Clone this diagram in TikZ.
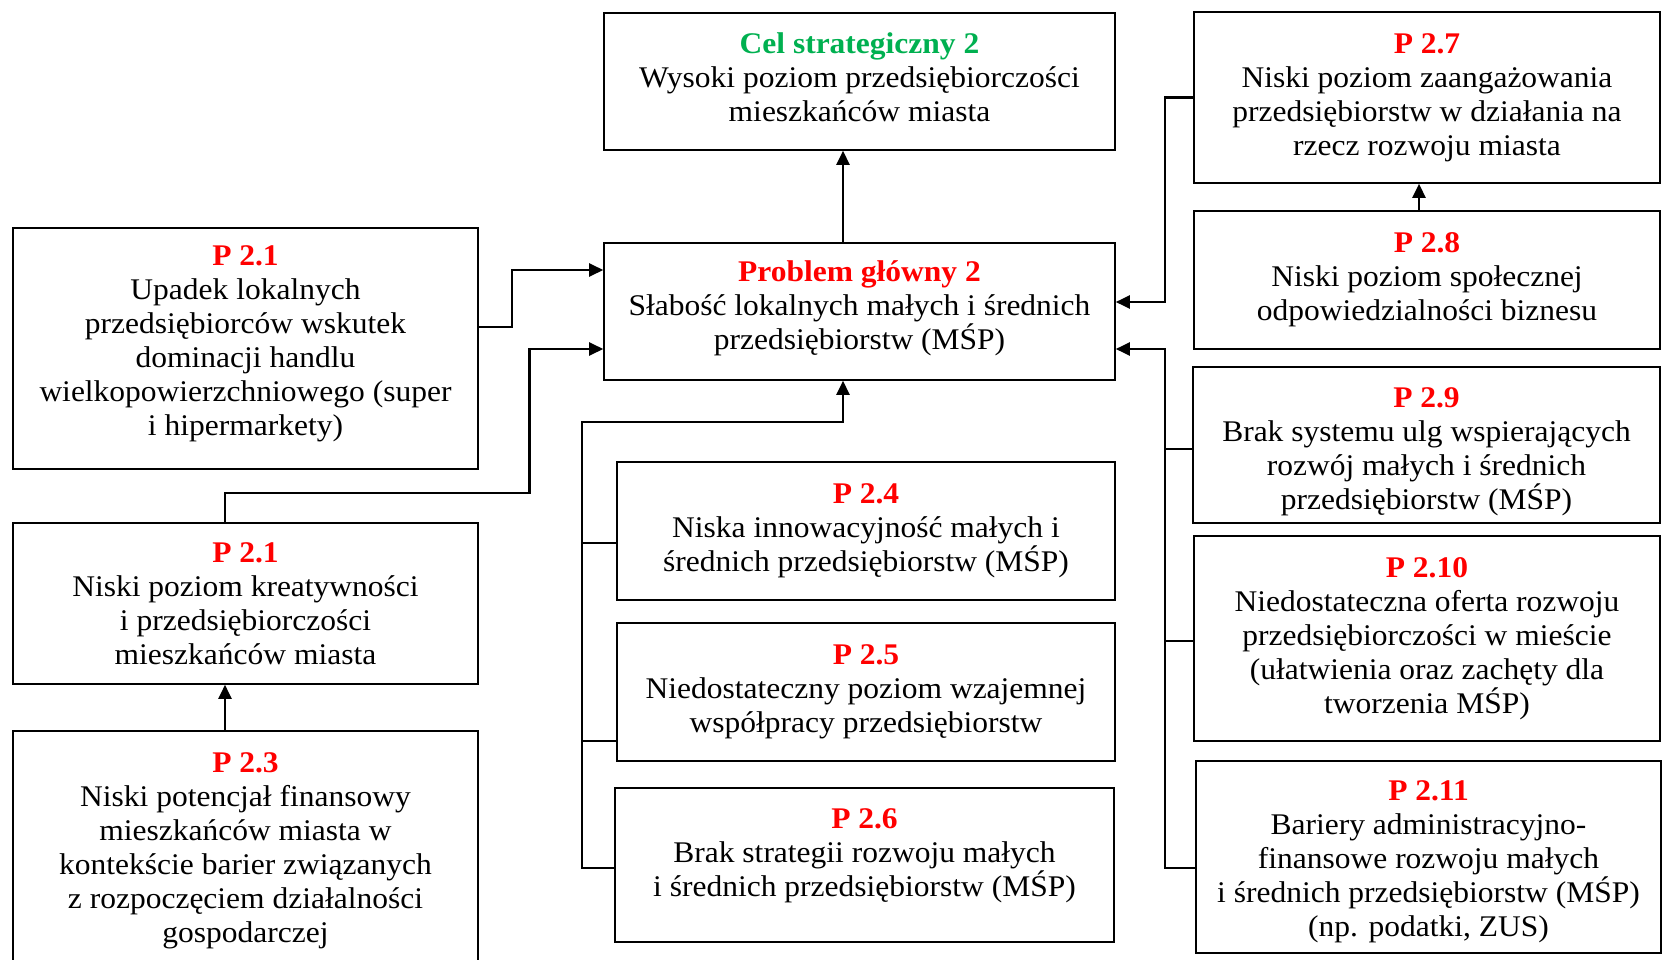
\documentclass[tikz,border=0pt]{standalone}
\usepackage{fontspec}
\setmainfont{Liberation Serif}[FakeStretch=1.05]
\usetikzlibrary{arrows.meta}
\definecolor{pred}{RGB}{255,0,0}
\definecolor{pgreen}{RGB}{0,176,80}
\newcommand{\ptit}[1]{\textcolor{pred}{\bfseries #1}}
\newcommand{\vup}[1]{\rule[-#1pt]{0pt}{0pt}}
\newcommand{\vdn}[1]{\rule{0pt}{#1pt}}

\begin{document}
\begin{tikzpicture}
  [x=1pt,y=-1pt,
   every node/.style={draw,line width=1.6pt,align=center,inner sep=0pt,
     font=\fontsize{30}{34}\selectfont},
   arr/.style={line width=2.4pt,-{Triangle[length=14pt,width=13pt]}},
   bus/.style={line width=2.4pt}]
  \useasboundingbox (0,0) rectangle (1664,960);
  \node[minimum width=511,minimum height=137] (cel) at (859.5,81.5)
    {\textcolor{pgreen}{\bfseries Cel strategiczny 2}\\Wysoki poziom przedsiębiorczości\\mieszkańców miasta\vup{8.5}};
  \node[minimum width=511,minimum height=137] (prob) at (859.5,311.5)
    {\ptit{Problem główny 2}\\Słabość lokalnych małych i średnich\\przedsiębiorstw (MŚP)\vup{13}};
  \node[minimum width=465,minimum height=241] (p21a) at (245.5,348.5)
    {\ptit{P 2.1}\\Upadek lokalnych\\przedsiębiorców wskutek\\dominacji handlu\\wielkopowierzchniowego (super\\i hipermarkety)\vup{15}};
  \node[minimum width=465,minimum height=161] (p21b) at (245.5,603.5)
    {\ptit{P 2.1}\\Niski poziom kreatywności\\i przedsiębiorczości\\mieszkańców miasta};
  \node[minimum width=465,minimum height=232] (p23) at (245.5,847)
    {\vdn{27}\ptit{P 2.3}\\Niski potencjał finansowy\\mieszkańców miasta w\\kontekście barier związanych\\z rozpoczęciem działalności\\gospodarczej};
  \node[minimum width=498,minimum height=138] (p24) at (866,531)
    {\ptit{P 2.4}\\Niska innowacyjność małych i\\średnich przedsiębiorstw (MŚP)};
  \node[minimum width=498,minimum height=138] (p25) at (866,692)
    {\ptit{P 2.5}\\Niedostateczny poziom wzajemnej\\współpracy przedsiębiorstw};
  \node[minimum width=499,minimum height=154] (p26) at (864.5,865)
    {\ptit{P 2.6}\\Brak strategii rozwoju małych\\i średnich przedsiębiorstw (MŚP)\vup{25.5}};
  \node[minimum width=466,minimum height=171] (p27) at (1427,97.5)
    {\ptit{P 2.7}\\Niski poziom zaangażowania\\przedsiębiorstw w działania na\\rzecz rozwoju miasta};
  \node[minimum width=466,minimum height=138] (p28) at (1427,280)
    {\ptit{P 2.8}\\Niski poziom społecznej\\odpowiedzialności biznesu};
  \node[minimum width=467,minimum height=156] (p29) at (1426.5,445)
    {\vdn{33}\ptit{P 2.9}\\Brak systemu ulg wspierających\\rozwój małych i średnich\\przedsiębiorstw (MŚP)};
  \node[minimum width=466,minimum height=205] (p210) at (1427,638.5)
    {\ptit{P 2.10}\\Niedostateczna oferta rozwoju\\przedsiębiorczości w mieście\\(ułatwienia oraz zachęty dla\\tworzenia MŚP)};
  \node[minimum width=465,minimum height=192] (p211) at (1428.5,857)
    {\vdn{29}\ptit{P 2.11}\\Bariery administracyjno-\\finansowe rozwoju małych\\i średnich przedsiębiorstw (MŚP)\\(np. podatki, ZUS)};

  \draw[arr] ([xshift=-16.5pt]prob.north) -- ([xshift=-16.5pt]cel.south);
  \draw[arr] ([yshift=21.5pt]p21a.east) -- ++(33,0) |- ([yshift=41.5pt]prob.west);
  \draw[arr] ([xshift=-20.5pt]p21b.north) -- ++(0,-29) -| (529.5,349) -- ([yshift=-37.5pt]prob.west);
  \draw[arr] ([xshift=-20.5pt]p23.north) -- ([xshift=-20.5pt]p21b.south);
  \draw[arr] ([yshift=-3pt]p26.west) -- ++(-32,0) -- ++(0,-446) -| ([xshift=-16.5pt]prob.south);
  \foreach \n/\dy/\dx in {p24/-12/34,p25/-49/34}
    \draw[bus] ([yshift=\dy pt]\n.west) -- ++(-\dx,0);
  \draw[arr] (p27.west) -- ++(-28,0) |- ([yshift=9.5pt]prob.east);
  \draw[arr] ([xshift=-8pt]p28.north) -- ([xshift=-8pt]p27.south);
  \draw[arr] ([yshift=-11pt]p211.west) -- ++(-30,0) |- ([yshift=-37.5pt]prob.east);
  \foreach \n/\dy/\dx in {p29/-4/27,p210/-2.5/28}
    \draw[bus] ([yshift=\dy pt]\n.west) -- ++(-\dx,0);
\end{tikzpicture}
\end{document}
